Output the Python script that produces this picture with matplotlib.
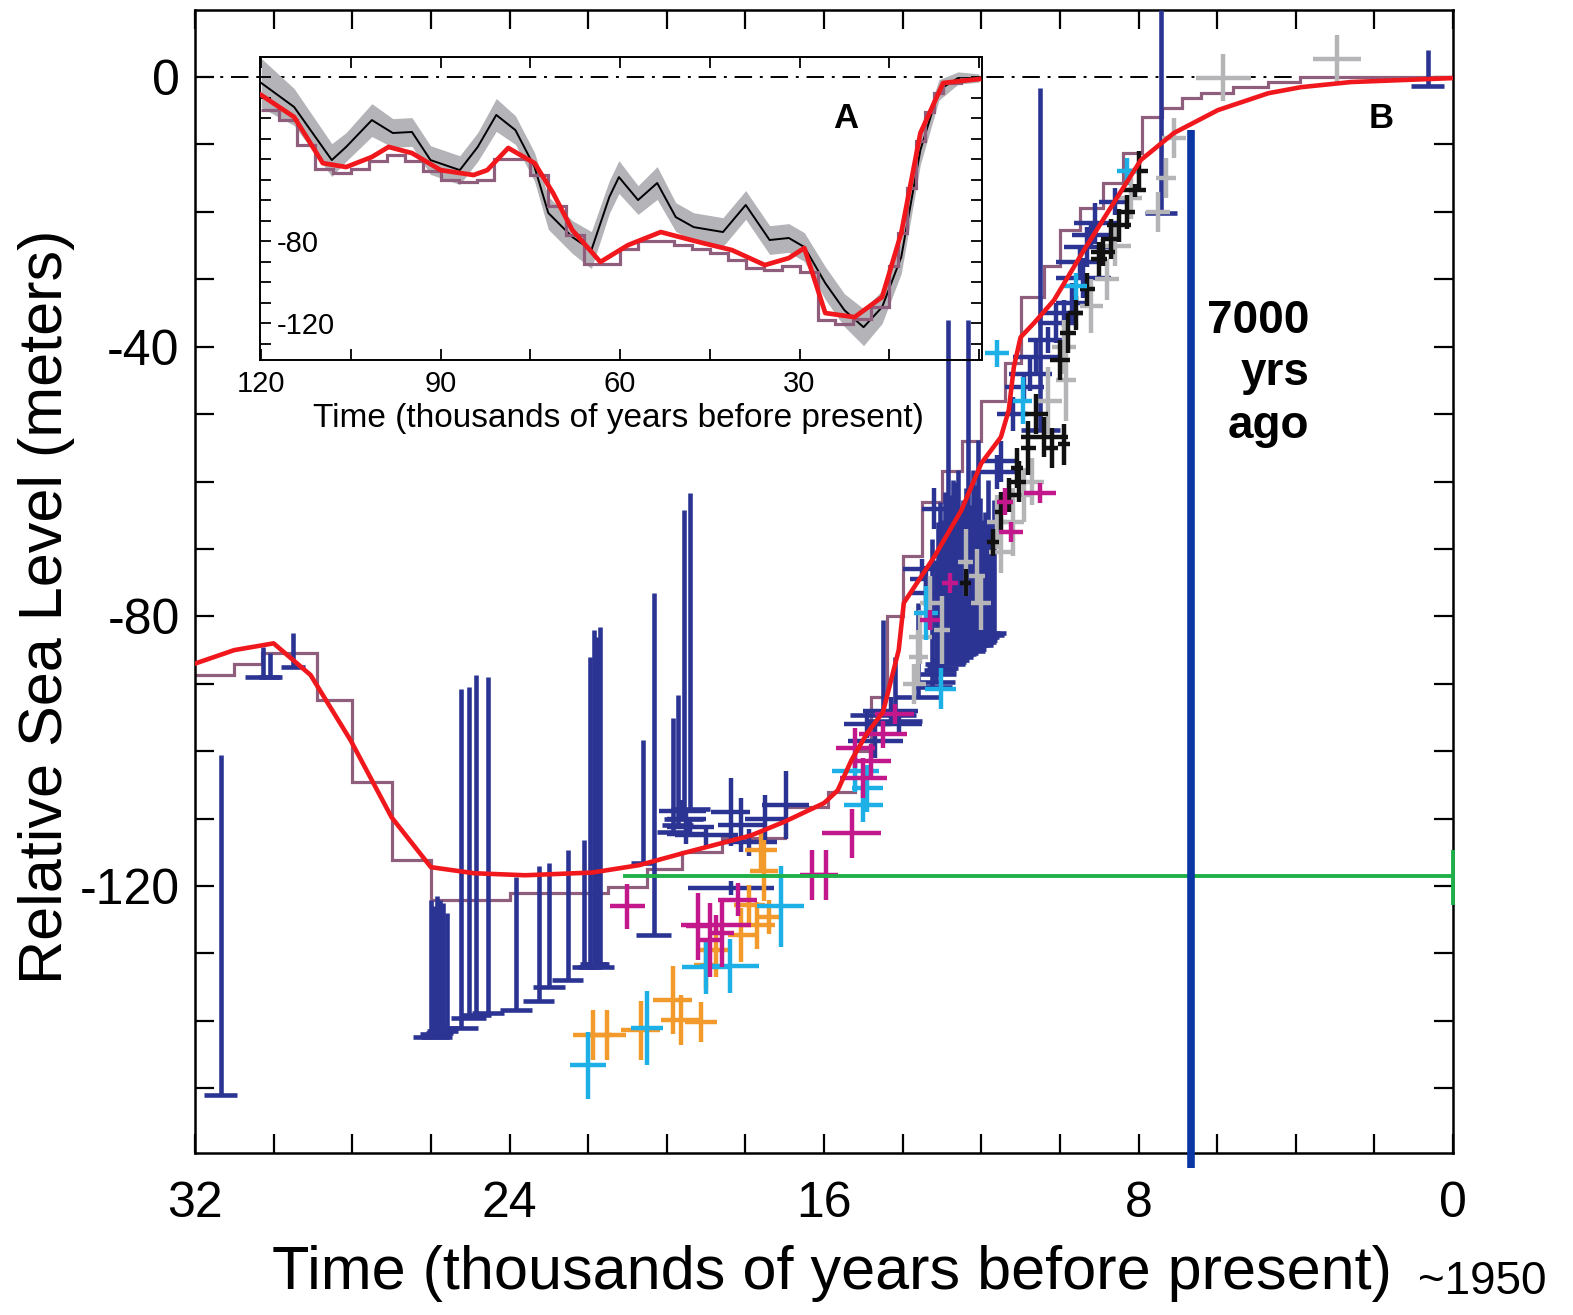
import numpy as np
import matplotlib.pyplot as plt
from matplotlib.ticker import MultipleLocator, FixedLocator

plt.rcParams['font.family'] = ['Liberation Sans', 'DejaVu Sans']
plt.rcParams['axes.unicode_minus'] = False

# ---- main panel (B): smooth sea-level curve (ka BP, metres)
red_age = [0, 2.6, 3.87, 4.7, 5.98, 7.1, 7.94, 8.7, 9.39, 10.15, 10.66, 11.0, 11.17,
           11.3, 11.5, 12.0, 12.5, 13.2, 13.97, 14.1, 14.5, 14.9, 15.3, 15.65, 16.0,
           17.02, 17.86, 19.57, 20.7, 21.9, 23.6, 24.9, 26.0, 27.0, 28.04, 29.06,
           30.0, 31.0, 32.1]
red_sl = [-0.15, -0.74, -1.5, -2.4, -4.9, -8.3, -12.3, -19.3, -25.7, -33.1, -36.5,
          -38.6, -43.0, -49.4, -53.4, -57.3, -64.2, -71.2, -78.0, -85.0, -94.2, -97.3,
          -101.3, -105.8, -107.7, -110.5, -112.5, -115.1, -116.9, -118.0, -118.4,
          -118.1, -117.2, -109.8, -98.4, -88.7, -84.0, -85.0, -87.2]

# stepped model curve
step_edges = [0, 3.9, 4.7, 5.6, 6.4, 6.9, 7.4, 7.9, 8.4, 8.9, 9.5, 10.0, 10.4, 11.0,
              11.4, 12.0, 12.5, 13.0, 13.5, 14.0, 14.4, 14.8, 15.2, 15.9, 17.0, 18.6,
              19.6, 20.5, 21.5, 24.0, 26.0, 27.0, 28.0, 28.9, 30.3, 31.0, 32.5]
step_sl = [0, -0.7, -1.5, -2.4, -3.1, -4.6, -5.9, -11.3, -15.7, -19.4, -22.7, -28,
           -32.6, -42.4, -48, -54, -58.5, -63, -71, -80, -92, -100, -106, -108.3,
           -112.8, -115, -117.4, -120.2, -121, -122, -116.2, -104.6, -92.4, -85.5,
           -87, -88.7]

# navy coral records: age, lower limit, upper limit, age error
navy_x = [31.35, 30.28, 30.08, 29.5, 26.0, 25.92, 25.85, 25.78, 25.7, 25.6, 25.24,
          25.04, 24.86, 24.55, 23.84, 23.26, 23.0, 22.52, 22.11, 21.95, 21.86, 21.78,
          21.7, 20.6, 20.33, 19.85, 19.72, 19.57, 19.4, 14.5, 13.16, 12.98, 12.85,
          12.72, 12.6, 12.47, 12.34, 12.21, 12.09, 11.96, 11.83, 11.68, 10.5, 7.43, 0.64,
          13.1, 13.05, 12.92, 12.78, 12.66, 12.53, 12.4, 12.28, 12.15, 12.02, 11.9,
          11.76, 13.25, 13.6, 14.2]
navy_lo = [-151.0, -89.0, -89.0, -87.5, -142.4, -142.0, -142.4, -141.8, -141.5, -141.0,
           -141.0, -139.6, -139.2, -138.9, -138.4, -137.0, -135.0, -134.0, -132.0,
           -132.0, -131.5, -131.5, -132.0, -116.6, -127.3, -112.0, -111.0, -110.0,
           -108.5, -94.7, -89.8, -87.7, -86.5, -86.5, -85.8, -85.5, -85.0, -84.3,
           -84.0, -83.5, -82.5, -82.5, -52.4, -20.2, -1.3,
           -88.5, -88.0, -87.0, -86.8, -86.0, -85.6, -85.2, -84.8, -84.2, -83.8, -83.0,
           -82.8, -90.5, -92.0, -95.5]
navy_hi = [-100.6, -84.5, -85.5, -82.5, -122.0, -123.0, -121.5, -122.0, -122.5, -124.0,
           -90.7, -90.5, -88.7, -89.0, -118.7, -117.0, -116.6, -114.7, -113.2, -86.0,
           -82.0, -83.0, -81.6, -98.4, -76.6, -95.0, -91.7, -64.2, -61.7, -80.6, -71.7,
           -65.7, -36.1, -59.8, -58.3, -62.8, -36.1, -58.3, -53.9, -65.7, -59.8, -62.8,
           -1.6, 10.0, 4.0,
           -66.0, -63.0, -61.5, -62.0, -60.0, -64.0, -61.0, -63.5, -60.5, -62.5, -64.5,
           -66.0, -68.5, -78.0, -86.0]
navy_xerr = [0.43, 0.45, 0.3, 0.3, 0.45, 0.35, 0.4, 0.35, 0.4, 0.3, 0.45, 0.45, 0.4,
             0.4, 0.4, 0.4, 0.4, 0.4, 0.3, 0.3, 0.35, 0.3, 0.35, 0.3, 0.45, 0.4, 0.4,
             0.5, 0.5, 0.85, 0.5, 0.4, 0.4, 0.4, 0.4, 0.4, 0.4, 0.4, 0.4, 0.35, 0.3,
             0.3, 0.5, 0.4, 0.42,
             0.45, 0.4, 0.5, 0.4, 0.45, 0.4, 0.5, 0.4, 0.45, 0.4, 0.35, 0.35, 0.5, 0.6, 0.7]

# crosses: (age, sea level, age error, depth error)
navy_pts = [(19.6, -108.8, 0.6, 1.5), (19.5, -110.0, 0.5, 1.5), (19.4, -111.2, 0.6, 1.5),
            (19.5, -112.3, 0.5, 1.5), (18.37, -109.0, 0.5, 5.0), (18.1, -111.0, 0.6, 4.0),
            (17.5, -110.0, 0.5, 3.5), (16.97, -108.0, 0.6, 5.0), (18.37, -120.3, 1.1, 1.0),
            (17.9, -113.5, 0.7, 2.0), (19.0, -112.5, 0.8, 1.5), (14.9, -96.0, 0.6, 2.0),
            (14.7, -98.5, 0.7, 2.5), (13.4, -74.5, 0.4, 2.0), (13.4, -76.5, 0.4, 2.0),
            (13.2, -64.0, 0.3, 3.0), (9.1, -21.7, 0.55, 3.0), (9.3, -25.2, 0.6, 3.0),
            (9.4, -29.8, 0.7, 3.0), (9.7, -33.5, 0.4, 3.0), (10.1, -36.5, 0.45, 3.0),
            (10.6, -41.5, 0.6, 2.5), (10.75, -44.0, 0.55, 2.5), (11.5, -57.0, 0.45, 3.0),
            (11.6, -58.6, 0.45, 2.5), (14.3, -94.0, 0.7, 2.0), (14.1, -96.0, 0.6, 1.5),
            (9.2, -23.5, 0.5, 2.0), (9.5, -27.5, 0.6, 2.5), (9.9, -35.0, 0.5, 2.0),
            (10.3, -39.0, 0.5, 2.0), (10.9, -46.0, 0.5, 2.0), (11.2, -50.0, 0.4, 2.5),
            (8.6, -18.5, 0.4, 2.0), (13.5, -73.0, 0.5, 1.5)]
cyan_pts = [(22.0, -146.6, 0.45, 5.0), (20.5, -141.0, 0.4, 5.5), (19.0, -132.0, 0.6, 4.0),
            (18.4, -131.8, 0.75, 4.0), (17.1, -123.0, 0.6, 6.0),
            (15.2, -103.0, 0.6, 3.0), (14.9, -105.5, 0.4, 3.5), (15.0, -108.0, 0.5, 2.5),
            (13.03, -90.7, 0.4, 3.0), (13.4, -79.5, 0.3, 4.0), (10.95, -48.0, 0.25, 3.5),
            (11.6, -41.0, 0.3, 2.0), (9.6, -31.0, 0.3, 2.0), (8.3, -14.0, 0.25, 2.0)]
magenta_pts = [(21.0, -123.0, 0.45, 3.3), (18.75, -125.8, 0.9, 1.5), (18.9, -128.0, 0.3, 5.5),
               (18.6, -127.0, 0.3, 5.0), (19.2, -126.0, 0.3, 5.0), (18.2, -122.0, 0.5, 2.5),
               (16.3, -118.4, 0.3, 3.7), (15.95, -118.4, 0.3, 3.7), (15.3, -112.2, 0.75, 3.7),
               (15.0, -104.0, 0.6, 3.0), (14.8, -101.5, 0.5, 2.5), (15.2, -99.5, 0.5, 3.0),
               (14.5, -97.5, 0.6, 2.0), (14.2, -94.5, 0.5, 1.5), (13.3, -80.5, 0.25, 1.5),
               (12.8, -75.0, 0.2, 1.5), (11.25, -67.5, 0.3, 1.5), (11.4, -63.0, 0.2, 2.0),
               (10.5, -61.7, 0.4, 1.5)]
orange_pts = [(21.88, -142.1, 0.5, 3.7), (21.53, -142.1, 0.5, 3.7), (20.66, -141.4, 0.5, 4.4),
              (19.85, -136.9, 0.5, 5.0), (19.64, -139.9, 0.5, 3.7), (19.13, -140.2, 0.4, 3.0),
              (17.6, -114.7, 0.4, 3.0), (17.53, -117.7, 0.35, 4.5), (17.9, -122.8, 0.4, 3.0),
              (17.7, -125.8, 0.45, 3.5), (18.1, -127.3, 0.35, 4.0), (18.75, -129.5, 0.4, 4.0),
              (19.0, -131.7, 0.3, 3.5), (17.4, -124.6, 0.35, 2.5)]
gray_pts = [(5.85, -0.1, 0.7, 3.5), (2.95, 2.7, 0.6, 3.5), (7.1, -9.0, 0.3, 3.0),
            (7.3, -15.0, 0.25, 3.0), (7.5, -20.0, 0.3, 3.0), (8.6, -25.0, 0.4, 3.0),
            (8.8, -30.0, 0.3, 3.0), (9.9, -40.0, 0.3, 4.0), (9.85, -45.0, 0.25, 6.0),
            (10.7, -60.0, 0.3, 3.5), (10.9, -62.0, 0.25, 4.0), (11.6, -66.0, 0.25, 4.0),
            (11.5, -70.5, 0.3, 3.0), (12.1, -74.0, 0.2, 4.0), (13.3, -78.0, 0.25, 4.0),
            (13.55, -83.0, 0.3, 4.0), (13.7, -90.0, 0.3, 3.0), (12.4, -72.0, 0.2, 5.0),
            (8.2, -18.0, 0.3, 3.0), (9.2, -34.0, 0.3, 4.0), (10.3, -48.0, 0.35, 5.0),
            (11.2, -66.0, 0.3, 5.0), (12.0, -78.0, 0.25, 4.0), (13.0, -82.0, 0.2, 5.0),
            (13.6, -86.0, 0.25, 4.0)]
black_pts = [(8.0, -14.0, 0.25, 3.0), (8.1, -16.8, 0.3, 1.0), (8.3, -20.0, 0.2, 2.5),
             (8.7, -24.0, 0.25, 3.0), (9.0, -27.0, 0.2, 2.5), (9.3, -31.5, 0.2, 2.5),
             (9.8, -38.0, 0.2, 3.0), (10.0, -42.0, 0.25, 3.0), (10.4, -53.4, 0.6, 3.0),
             (10.2, -55.0, 0.15, 3.0), (9.9, -54.5, 0.15, 3.0), (11.1, -58.0, 0.15, 3.0),
             (11.3, -62.0, 0.2, 2.5), (11.5, -64.5, 0.15, 3.0), (11.7, -69.0, 0.15, 2.0),
             (12.4, -75.0, 0.15, 2.0), (8.5, -22.0, 0.3, 2.5), (8.9, -26.0, 0.3, 2.0),
             (9.6, -35.0, 0.2, 2.5), (10.6, -50.0, 0.3, 3.0), (10.8, -55.0, 0.2, 4.0),
             (11.05, -60.0, 0.2, 3.0)]

lgm_level = -118.5
lgm_span = [21.05, 0]
mark_7000 = 6.67

# ---- inset (A): 120 ka record
ins_age = [0, 3.5, 6.7, 9.8, 13.0, 16.2, 19.3, 22.5, 25.7, 29.2, 31.8, 35.0, 39.0, 42.8,
           47.7, 50.7, 53.8, 57.0, 60.2, 61.8, 64.8, 68.0, 72.0, 74.3, 77.5, 80.7, 83.8,
           86.8, 91.7, 94.8, 98.0, 101.5, 105.8, 108.2, 114.5, 120]
ins_sl = [-0.5, -0.5, -6.3, -35.6, -87.8, -112.2, -122.0, -113.7, -100.5, -82.9, -78.5,
          -79.5, -62.4, -75.6, -73.2, -68.3, -51.7, -60.0, -48.8, -58.5, -84.4, -78.0,
          -66.3, -43.9, -25.9, -18.5, -34.1, -45.4, -40.5, -26.8, -27.3, -21.0, -34.1,
          -40.5, -14.6, -2.9]
ins_err = [2, 3, 5, 7, 8, 8, 9, 8, 8, 7, 7, 7, 7, 7, 7, 7, 8, 7, 8, 8, 9, 8, 8, 7, 7,
           8, 7, 7, 7, 7, 7, 8, 7, 8, 9, 12]
ins_red_age = [0, 6.0, 9.8, 13.0, 16.2, 20.8, 25.7, 29.2, 31.8, 35.8, 41.3, 46.8, 53.2,
               58.7, 63.3, 68.0, 71.2, 74.3, 78.7, 82.2, 84.5, 90.0, 94.8, 98.7, 101.5,
               105.8, 109.7, 114.5, 120]
ins_red_sl = [-1.0, -2.9, -27.3, -76.1, -107.3, -117.1, -115.1, -83.4, -88.3, -91.7,
              -84.4, -80.5, -75.6, -82.0, -90.2, -74.6, -56.6, -42.0, -34.6, -45.4, -47.8,
              -45.4, -37.1, -34.1, -39.0, -43.9, -42.0, -19.5, -8.8]
ins_step_edges = [0, 3, 6, 7.5, 9, 10.5, 12, 13.5, 15, 18, 21, 24, 27, 30, 33, 36, 39,
                  42, 45, 48, 51, 54, 57, 60, 63, 66, 69, 72, 75, 78, 81, 84, 87, 90, 93,
                  96, 99, 102, 105, 108, 111, 114, 117, 120]
ins_step_sl = [-1, -3, -8, -17, -31, -54, -76, -92, -112, -118, -120.5, -118.5, -95, -92,
               -94, -93, -89, -86, -84, -82, -80, -80, -84, -91, -91, -77, -63, -48, -40,
               -40, -50, -51, -50, -46, -41, -38, -41, -45, -47, -45, -33, -21, -16]

navy = '#2b3393'
red = '#f0181c'
mauve = '#8e5e7c'

fig = plt.figure(figsize=(15.73, 13.15), dpi=100)
W, H = 1573, 1315
ax = fig.add_axes([195 / W, 1 - 1153 / H, (1453 - 195) / W, (1153 - 10) / H])
ax.set_xlim(32, 0)
ax.set_ylim(-159.6, 9.95)

ax.axhline(0, color='black', lw=1.4, ls=(0, (9, 4, 1.5, 4)), zorder=1)
ax.stairs(step_sl, step_edges, baseline=None, color=mauve, lw=2.3, zorder=2)

lo = np.array(navy_lo)
hi = np.array(navy_hi)
ax.errorbar(navy_x, lo, xerr=navy_xerr, yerr=[np.zeros_like(lo), hi - lo],
            fmt='none', ecolor=navy, elinewidth=3.3, capsize=0, zorder=3)

for pts, col in [(navy_pts, navy), (gray_pts, '#b5b5b8'), (black_pts, '#111111'),
                 (orange_pts, '#f29a2c'), (cyan_pts, '#1cb0e6'), (magenta_pts, '#c2188c')]:
    px, py, pxe, pye = zip(*pts)
    ax.errorbar(px, py, xerr=pxe, yerr=pye, fmt='none', ecolor=col,
                elinewidth=3.2, capsize=0, zorder=3)

ax.plot(lgm_span, [lgm_level, lgm_level], color='#1fb04a', lw=2.8, zorder=4)
ax.plot([0, 0], [lgm_level + 3.5, lgm_level - 4], color='#1fb04a', lw=2.8,
        clip_on=False, zorder=4)
ax.plot(red_age, red_sl, color=red, lw=3.3, zorder=5, solid_joinstyle='round')
ax.plot([mark_7000, mark_7000], [-7.9, -161.8], color='#0a36a3', lw=5.5,
        solid_capstyle='butt', clip_on=False, zorder=6)

ax.text(1.83, -6.1, 'B', fontsize=25, fontweight='bold', ha='center', va='center')
ax.text(3.66, -43.9, '7000\nyrs\nago', fontsize=33, fontweight='bold', ha='right',
        va='center', multialignment='right', linespacing=1.25)
fig.text(1418 / W, 1 - 1282 / H, '~1950', fontsize=33, ha='left', va='center')

ax.xaxis.set_major_locator(MultipleLocator(8))
ax.xaxis.set_minor_locator(MultipleLocator(2))
ax.yaxis.set_major_locator(MultipleLocator(40))
ax.yaxis.set_minor_locator(MultipleLocator(10))
ax.tick_params(which='both', direction='in', length=14, width=1.6, top=True, right=True)
ax.tick_params(labelsize=36)
ax.tick_params(axis='x', pad=20)
ax.tick_params(axis='y', pad=11)
for s in ax.spines.values():
    s.set_linewidth(1.8)
ax.set_xlabel('Time (thousands of years before present)', fontsize=44)
ax.set_ylabel('Relative Sea Level (meters)', fontsize=44)
ax.xaxis.set_label_coords(0.506, -0.0805)
ax.yaxis.set_label_coords(-0.0954, 0.478)

# ---- inset
axi = fig.add_axes([260 / W, 1 - 360 / H, (982 - 260) / W, (360 - 57) / H])
axi.set_facecolor('none')
axi.set_xlim(120.2, -0.5)
axi.set_ylim(-138.0, 9.76)
ia = np.array(ins_age)
isl = np.array(ins_sl)
ie = np.array(ins_err)
axi.fill_between(ia, isl - ie, isl + ie, color='#b3b3b8', lw=0, zorder=1)
axi.plot(ia, isl, color='black', lw=1.4, zorder=2)
axi.stairs(ins_step_sl, ins_step_edges, baseline=None, color=mauve, lw=2.3, zorder=3)
axi.plot(ins_red_age, ins_red_sl, color=red, lw=3.4, zorder=4, solid_joinstyle='round')
axi.text(22.3, -20, 'A', fontsize=25, fontweight='bold', ha='center', va='center')

axi.xaxis.set_major_locator(FixedLocator([120, 90, 60, 30]))
axi.xaxis.set_minor_locator(MultipleLocator(15))
axi.yaxis.set_major_locator(FixedLocator([-120, -80]))
axi.yaxis.set_minor_locator(MultipleLocator(10))
axi.tick_params(which='both', direction='in', length=8, width=1.3, top=True, right=True,
                labelsize=21)
axi.tick_params(axis='x', pad=7)
axi.tick_params(axis='y', pad=-12)
plt.setp(axi.get_yticklabels(), ha='left')
for s in axi.spines.values():
    s.set_linewidth(1.4)
axi.set_xlabel('Time (thousands of years before present)', fontsize=24)
axi.xaxis.set_label_coords(0.496, -0.142)

fig.savefig('out.png', dpi=100)
